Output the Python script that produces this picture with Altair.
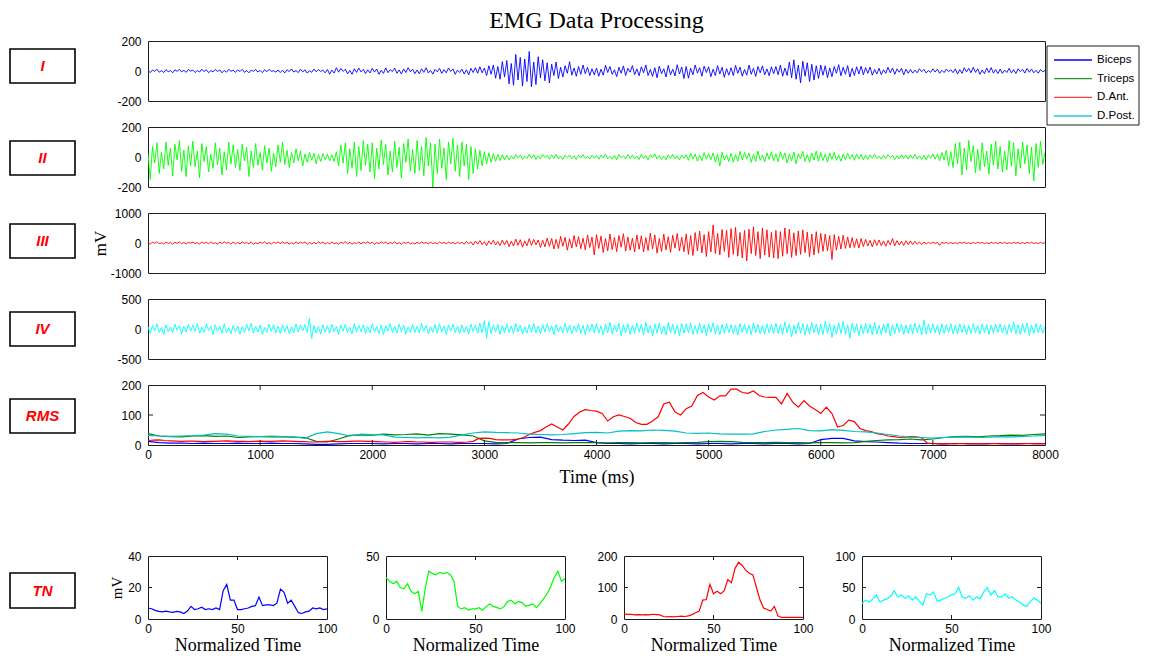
import altair as alt
import pandas as pd

# ---------------- data ----------------
SERIES = ["Biceps", "Triceps", "D.Ant.", "D.Post."]
RAW_COLORS = ["#0000ff", "#00ff00", "#ff0000", "#00ffff"]
RMS_COLORS = ["#0000ff", "#008000", "#ff0000", "#00bfbf"]
LEGEND_COLORS = ["#0000ff", "#2e9a2e", "#ff3b3b", "#22cccc"]
PANEL_LABELS = ["I", "II", "III", "IV", "RMS", "TN"]

T_RAW = list(range(0, 8001, 20))

BICEPS = [
    4, -11, 7, -3, 12, -8, 2, -10, 9, -5, 3, -12, 8, -2, 11, -6, 5, -9, 10, -1,
    6, -10, 3, -7, 12, -4, 9, -11, 2, -6, 10, -3, 7, -12, 4, -8, 11, -2, 5, -9,
    8, -4, 11, -9, 3, -12, 6, -2, 10, -7, 4, -11, 9, -5, 12, -3, 2, -8, 7, -10,
    5, -13, 9, -4, 14, -7, 3, -11, 12, -6, 8, -14, 2, -9, 13, -5, 10, -3, 6, -12,
    10, -21, 6, -14, 22, -8, 17, -3, 12, -19, 4, -22, 15, -9, 20, -6, 11, -17, 8, -13,
    18, -7, 13, -22, 5, -16, 21, -11, 9, -4, 19, -15, 7, -20, 14, -10, 22, -5, 12, -18,
    7, -19, 15, -9, 22, -13, 4, -21, 11, -6, 18, -16, 9, -12, 20, -3, 14, -22, 6, -10,
    12, -20, 8, -25, 18, -10, 22, -15, 28, -12, 20, -30, 35, -22, 40, -48, 30, -55, 62, -40,
    70, -85, 50, -95, 110, -60, 90, -100, 80, -70, 130, -105, 60, -90, 95, -45, 75, -65, 55, -80,
    45, -30, 60, -50, 25, -40, 35, -15, 62, -28, 20, -35, 30, -22, 40, -18, 25, -30, 15, -26,
    20, -35, 12, -28, 38, -10, 30, -22, 8, -38, 25, -15, 34, -30, 18, -8, 36, -25, 14, -32,
    28, -12, 40, -30, 10, -36, 22, -45, 32, -18, 15, -40, 38, -25, 12, -33, 42, -20, 26, -50,
    30, -48, 18, -25, 40, -14, 22, -35, 33, -10, 28, -38, 12, -30, 36, -20, 25, -42, 15, -28,
    22, -30, 38, -15, 26, -35, 10, -28, 40, -22, 18, -36, 30, -12, 34, -25, 14, -32, 28, -18,
    30, -25, 40, -35, 20, -30, 60, -45, 75, -55, 40, -80, 65, -35, 55, -70, 45, -60, 35, -50,
    40, -28, 35, -45, 20, -38, 30, -15, 42, -32, 25, -22, 36, -40, 18, -30, 28, -20, 32, -25,
    22, -15, 26, -28, 10, -20, 18, -24, 8, -16, 25, -12, 20, -22, 14, -8, 18, -26, 12, -15,
    10, -14, 6, -12, 15, -5, 11, -13, 3, -9, 14, -7, 12, -15, 5, -10, 13, -4, 8, -11,
    14, -20, 9, -16, 22, -6, 18, -12, 25, -9, 15, -22, 7, -18, 20, -11, 23, -14, 10, -17,
    12, -16, 6, -10, 18, -13, 9, -17, 15, -4, 11, -14, 17, -8, 13, -12, 5, -15, 10, -6,
    4,
]

TRICEPS = [
    25, -150, 70, -40, 95, -110, 30, -80, 100, -55, 60, -125, 85, -20, 110, -95, 45, -130, 75, -60,
    105, -65, 40, -140, 90, -30, 70, -100, 20, -75, 95, -50, 60, -120, 35, -85, 100, -45, 80, -70,
    50, -90, 85, -25, 65, -130, 40, -70, 90, -55, 30, -85, 75, -40, 60, -95, 25, -65, 80, -35,
    100, -50, 45, -70, 30, -40, 55, -25, 40, -60, 20, -35, 30, -22, 25, -45, 15, -30, 22, -18,
    20, -25, 15, -30, 35, -60, 80, -40, 95, -110, 55, -75, 100, -130, 70, -90, 110, -55, 85, -100,
    95, -145, 60, -80, 115, -50, 85, -120, 40, -100, 105, -70, 65, -140, 90, -35, 120, -95, 50, -110,
    110, -90, 70, -125, 130, -60, 95, -200, 85, -110, 120, -75, 60, -150, 100, -45, 125, -95, 80, -130,
    100, -60, 85, -150, 70, -110, 55, -80, 45, -60, 35, -45, 28, -35, 22, -28, 18, -24, 15, -20,
    12, -18, 8, -14, 17, -6, 13, -16, 5, -11, 18, -9, 14, -17, 7, -12, 16, -4, 10, -15,
    15, -9, 17, -13, 6, -16, 11, -5, 14, -12, 8, -17, 13, -7, 16, -10, 4, -14, 12, -8,
    9, -16, 13, -7, 18, -12, 5, -15, 11, -18, 16, -6, 8, -13, 17, -9, 14, -11, 6, -17,
    17, -11, 8, -19, 14, -5, 20, -13, 10, -16, 6, -18, 15, -9, 19, -12, 7, -20, 13, -8,
    16, -22, 25, -12, 20, -28, 10, -24, 30, -15, 22, -18, 28, -35, 18, -60, 32, -20, 14, -30,
    25, -35, 15, -28, 38, -20, 30, -12, 26, -36, 18, -30, 40, -22, 12, -32, 28, -16, 35, -25,
    20, -32, 36, -15, 28, -40, 18, -26, 34, -45, 22, -12, 38, -30, 15, -35, 27, -20, 40, -28,
    30, -24, 18, -34, 26, -15, 32, -22, 12, -28, 20, -18, 25, -14, 16, -22, 19, -12, 17, -20,
    10, -16, 14, -8, 17, -12, 6, -15, 13, -10, 16, -5, 11, -17, 8, -13, 15, -9, 12, -14,
    14, -10, 17, -13, 8, -16, 12, -18, 15, -9, 20, -14, 18, -25, 30, -20, 45, -60, 35, -70,
    90, -45, 100, -120, 60, -85, 110, -30, 75, -105, 50, -90, 95, -65, 40, -115, 85, -55, 105, -80,
    70, -100, 40, -85, 110, -60, 95, -125, 55, -75, 100, -45, 80, -110, 65, -160, 90, -70, 105, -50,
    30,
]

D_ANT = [
    15, -38, 28, -10, 42, -25, 8, -33, 36, -18, 22, -45, 30, -12, 40, -28, 18, -35, 25, -8,
    32, -20, 12, -40, 38, -15, 26, -30, 45, -22, 10, -36, 28, -18, 40, -8, 20, -42, 34, -25,
    22, -34, 40, -12, 18, -28, 35, -42, 10, -25, 30, -16, 44, -30, 14, -38, 26, -10, 36, -22,
    38, -18, 25, -40, 12, -30, 42, -22, 28, -8, 35, -45, 20, -32, 16, -26, 40, -14, 30, -36,
    18, -30, 36, -24, 8, -42, 30, -15, 44, -28, 22, -38, 12, -20, 34, -32, 26, -12, 40, -18,
    28, -45, 15, -26, 38, -10, 32, -36, 20, -22, 42, -30, 14, -40, 26, -16, 36, -28, 10, -34,
    24, -20, 34, -12, 18, -32, 28, -24, 10, -30, 36, -16, 22, -26, 30, -10, 16, -28, 26, -20,
    30, -45, 55, -25, 40, -70, 65, -35, 80, -55, 45, -90, 70, -40, 95, -65, 50, -85, 100, -60,
    85, -120, 60, -100, 130, -75, 110, -140, 70, -95, 145, -80, 120, -60, 100, -150, 90, -125, 160, -110,
    150, -200, 120, -180, 220, -110, 190, -240, 140, -170, 250, -130, 210, -190, 160, -230, 270, -150, 200, -400,
    280, -180, 230, -320, 150, -260, 300, -220, 180, -290, 250, -140, 310, -270, 200, -240, 160, -300, 270, -210,
    240, -300, 180, -250, 330, -200, 270, -340, 150, -280, 300, -230, 210, -310, 260, -170, 320, -260, 190, -290,
    300, -380, 250, -420, 350, -260, 400, -330, 280, -450, 380, -300, 600, -350, 320, -400, 450, -280, 420, -480,
    480, -380, 520, -440, 350, -500, 420, -600, 460, -350, 540, -420, 380, -520, 500, -400, 440, -470, 360, -500,
    420, -520, 380, -440, 500, -360, 460, -480, 340, -420, 400, -380, 440, -320, 360, -460, 300, -400, 380, -340,
    320, -280, 300, -260, 250, -550, 280, -240, 220, -200, 260, -180, 200, -160, 180, -150, 140, -170, 150, -120,
    120, -100, 90, -130, 110, -80, 100, -90, 70, -110, 85, -60, 150, -95, 80, -70, 60, -85, 75, -55,
    70, -50, 60, -45, 40, -55, 35, -30, 25, -20, 30, -18, 22, -80, 26, -15, 20, -24, 18, -22,
    15, -25, 22, -12, 28, -18, 10, -24, 20, -15, 26, -8, 18, -22, 12, -26, 24, -14, 16, -20,
    20, -16, 25, -22, 12, -18, 24, -10, 18, -26, 14, -20, 22, -12, 28, -18, 10, -24, 20, -15,
    10,
]

D_POST = [
    40, -75, 60, -30, 85, -55, 25, -90, 70, -45, 35, -65, 80, -20, 55, -85, 45, -50, 75, -35,
    65, -40, 90, -70, 30, -55, 80, -25, 50, -95, 70, -35, 45, -75, 85, -60, 20, -80, 60, -45,
    50, -85, 35, -60, 75, -30, 95, -70, 40, -50, 65, -90, 25, -55, 80, -40, 70, -65, 45, -75,
    70, -45, 55, -80, 35, -60, 85, -50, 65, -30, 75, -55, 180, -160, 60, -70, 40, -85, 70, -50,
    55, -70, 80, -40, 45, -90, 65, -35, 75, -60, 30, -80, 90, -50, 60, -45, 70, -75, 40, -65,
    85, -50, 40, -75, 70, -95, 55, -30, 90, -60, 45, -70, 80, -40, 65, -85, 35, -55, 75, -60,
    45, -65, 90, -40, 60, -80, 35, -55, 75, -70, 85, -45, 50, -90, 65, -35, 80, -60, 40, -75,
    70, -55, 45, -85, 80, -40, 60, -70, 95, -60, 140, -150, 120, -80, 65, -45, 75, -90, 55, -65,
    80, -60, 50, -75, 90, -45, 65, -85, 40, -70, 75, -55, 95, -65, 45, -80, 70, -50, 85, -40,
    55, -90, 75, -50, 40, -70, 95, -60, 65, -80, 50, -45, 85, -75, 60, -95, 70, -40, 80, -65,
    90, -70, 55, -100, 80, -60, 110, -85, 65, -50, 95, -110, 70, -60, 85, -90, 60, -75, 100, -55,
    75, -95, 110, -65, 60, -120, 85, -70, 95, -80, 50, -100, 105, -60, 80, -85, 65, -110, 90, -70,
    85, -60, 100, -90, 55, -75, 95, -65, 70, -110, 80, -55, 105, -85, 60, -95, 75, -70, 90, -60,
    70, -85, 60, -100, 90, -55, 80, -75, 65, -95, 100, -60, 75, -80, 55, -90, 85, -65, 70, -75,
    95, -75, 70, -90, 120, -65, 85, -130, 60, -80, 105, -70, 90, -100, 75, -85, 110, -60, 80, -95,
    80, -95, 130, -70, 90, -140, 65, -85, 100, -75, 125, -90, 70, -150, 95, -65, 85, -110, 75, -80,
    90, -70, 75, -100, 110, -85, 60, -95, 85, -65, 100, -120, 70, -80, 95, -60, 80, -90, 65, -75,
    75, -85, 95, -60, 70, -100, 150, -85, 80, -70, 90, -65, 60, -95, 85, -75, 70, -55, 90, -80,
    65, -80, 85, -55, 70, -95, 60, -75, 90, -65, 55, -85, 80, -60, 75, -90, 65, -70, 85, -55,
    80, -65, 60, -90, 75, -55, 120, -80, 70, -95, 85, -60, 100, -110, 65, -75, 90, -60, 75, -70,
    40,
]

T_RMS = list(range(0, 8001, 100))
T_RMS_FINE = list(range(0, 8001, 50))
RMS_BICEPS = [
    12, 8, 6, 6, 5, 6, 5, 5, 6, 5,
    5, 6, 5, 5, 4, 2, 2, 4, 5, 5,
    5, 4, 5, 5, 4, 5, 5, 4, 5, 5,
    5, 4, 5, 20, 25, 26, 18, 16, 15, 16,
    8, 5, 5, 4, 5, 5, 4, 5, 5, 4,
    5, 5, 4, 5, 5, 4, 5, 5, 4, 5,
    18, 22, 22, 14, 11, 10, 8, 6, 5, 5,
    5, 4, 5, 5, 4, 5, 5, 4, 5, 5,
    5,
]
RMS_TRICEPS = [
    38, 30, 28, 27, 30, 31, 29, 30, 25, 27,
    28, 27, 28, 26, 25, 12, 10, 20, 32, 34,
    33, 36, 34, 35, 37, 33, 38, 36, 34, 30,
    14, 9, 8, 8, 7, 8, 8, 7, 8, 8,
    8, 7, 8, 8, 7, 8, 8, 7, 8, 9,
    11, 12, 11, 9, 8, 8, 9, 8, 8, 7,
    8, 8, 7, 8, 12, 15, 17, 18, 20, 17,
    20, 25, 28, 29, 27, 30, 31, 33, 32, 35,
    37,
]
RMS_DANT = [  # 50 ms steps
    15, 16, 17, 15, 14, 13, 12, 13, 13, 12,
    11, 12, 12, 13, 14, 13, 12, 12, 11, 12,
    13, 12, 12, 13, 14, 13, 12, 11, 11, 10,
    10, 11, 12, 12, 11, 11, 12, 13, 13, 12,
    12, 11, 10, 10, 9, 10, 11, 11, 10, 10,
    9, 9, 10, 10, 10, 9, 9, 10, 12, 22,
    23, 22, 18, 17, 17, 18, 20, 25, 35, 42,
    48, 60, 70, 60, 50, 70, 95, 110, 118, 115,
    113, 105, 80, 94, 100, 95, 89, 75, 69, 69,
    80, 94, 137, 143, 110, 100, 121, 130, 165, 175,
    160, 150, 164, 164, 186, 186, 175, 172, 180, 165,
    160, 159, 159, 137, 172, 143, 126, 148, 130, 118,
    105, 126, 105, 60, 65, 83, 78, 55, 48, 45,
    38, 35, 30, 28, 25, 26, 28, 27, 24, 6,
    5, 4, 4, 5, 4, 5, 4, 4, 5, 4,
    4, 5, 4, 4, 5, 4, 4, 5, 4, 4,
    4,
]
RMS_DPOST = [
    32, 30, 29, 30, 31, 33, 38, 36, 30, 29,
    28, 30, 28, 27, 22, 38, 44, 38, 30, 36,
    35, 34, 26, 25, 24, 25, 24, 26, 34, 40,
    44, 42, 41, 40, 36, 35, 34, 35, 38, 41,
    42, 40, 46, 48, 47, 50, 49, 46, 40, 39,
    40, 37, 36, 36, 37, 45, 50, 52, 55, 48,
    47, 51, 49, 45, 44, 40, 35, 30, 26, 25,
    23, 25, 26, 27, 25, 26, 28, 27, 29, 30,
    32,
]

T_NORM = list(range(0, 101, 2))
TN_BICEPS = [
    7, 6.5, 5.5, 4.8, 4.5, 5, 4.5, 4.2, 4.8, 4.5,
    3.5, 5, 8, 6, 6.5, 7.5, 6, 6.5, 6, 7,
    6, 18, 22, 12, 12, 6, 6, 6.5, 7, 8,
    8.5, 14, 8.5, 9, 9, 8.5, 10, 19, 17, 10,
    12, 8, 4, 3.5, 4.5, 5, 7, 6.5, 7, 6,
    6.5,
]
TN_TRICEPS = [
    33, 30, 28, 30, 25, 24, 28, 22, 20, 22,
    6, 25, 38, 36, 35, 37, 36, 37, 35, 30,
    10, 8, 9, 7, 8, 8, 9, 7, 10, 12,
    10, 9, 8, 10, 14, 15, 12, 14, 13, 10,
    11, 12, 9, 12, 16, 20, 26, 33, 38, 30,
    32,
]
TN_DANT = [
    16, 15, 15, 13, 14, 13, 14, 13, 15, 14,
    13, 8, 7, 8, 7, 8, 9, 8, 10, 14,
    20, 25, 60, 62, 110, 80, 88, 80, 90, 125,
    115, 160, 180, 170, 155, 145, 140, 100, 60, 35,
    30, 25, 40, 10, 5, 5, 5, 5, 5, 5,
    5,
]
TN_DPOST = [
    25, 30, 27, 32, 38, 27, 30, 32, 36, 45,
    35, 38, 33, 37, 30, 35, 28, 22, 40, 38,
    43, 28, 30, 33, 35, 38, 40, 50, 35, 33,
    37, 30, 35, 32, 43, 50, 38, 45, 35, 35,
    40, 33, 35, 30, 27, 22, 20, 28, 33, 30,
    25,
]

RAW_LIMITS = [200, 200, 1000, 500]
RMS_YTICKS = [0, 100, 200]
TIME_TICKS = list(range(0, 8001, 1000))
NORM_TICKS = [0, 50, 100]
TN_YMAX = [40, 50, 200, 100]
TN_YTICKS = [[0, 20, 40], [0, 50], [0, 100, 200], [0, 50, 100]]

# ---------------- styling / layout ----------------
SANS = "Liberation Sans"
SERIF = "Liberation Serif"
FRAME = "#1e1e1e"
W, H = 897, 60
LABEL_EXPR = "toString(datum.value)"

BOX_Y = {"I": (8, 42), "II": (14, 48), "III": (11, 45), "IV": (13, 47),
         "RMS": (14, 48), "TN": (17, 52)}


def label_box(text):
    y0, y1 = BOX_Y[text]
    d = pd.DataFrame({"lab": [text]})
    rect = alt.Chart(d).mark_rect(fill="white", stroke="black", strokeWidth=1.6).encode(
        x=alt.value(-138), x2=alt.value(-73), y=alt.value(y0), y2=alt.value(y1))
    txt = alt.Chart(d).mark_text(color="red", font=SANS, fontSize=15, fontWeight="bold",
                                 fontStyle="italic", align="center", baseline="middle").encode(
        x=alt.value(-105.5), y=alt.value((y0 + y1) / 2), text="lab:N")
    return [rect, txt]


def raw_panel(i, values, ytitle=None):
    lim = RAW_LIMITS[i]
    df = pd.DataFrame({"t": T_RAW, "v": values})
    yax = alt.Axis(values=[-lim, 0, lim], labelExpr=LABEL_EXPR,
                   title=ytitle if ytitle else None, titleFontSize=17, titlePadding=1)
    line = alt.Chart(df).mark_line(color=RAW_COLORS[i], strokeWidth=0.9, clip=True).encode(
        x=alt.X("t:Q", scale=alt.Scale(domain=[0, 8000], nice=False, zero=False), axis=None),
        y=alt.Y("v:Q", scale=alt.Scale(domain=[-lim, lim], nice=False), axis=yax),
    )
    return [line] + label_box(PANEL_LABELS[i])


def legend_layers():
    leg = pd.DataFrame({"name": SERIES, "col": LEGEND_COLORS})
    ly = alt.Y("name:N", sort=SERIES, axis=None,
               scale=alt.Scale(type="point", domain=SERIES, range=[19, 75], padding=0))
    box = alt.Chart(leg.head(1)).mark_rect(fill="white", stroke=FRAME, strokeWidth=1).encode(
        x=alt.value(899), x2=alt.value(991), y=alt.value(5), y2=alt.value(84))
    lines = alt.Chart(leg).mark_rule(strokeWidth=1.3).encode(
        x=alt.value(906), x2=alt.value(944), y=ly, color=alt.Color("col:N", scale=None))
    texts = alt.Chart(leg).mark_text(align="left", baseline="middle", font=SANS,
                                     fontSize=11.5, color="black").encode(
        x=alt.value(949), y=ly, text="name:N")
    return [box, lines, texts]


# panels I-IV
p1 = alt.layer(*(raw_panel(0, BICEPS) + legend_layers())).resolve_scale(
    y="independent", color="independent").properties(
    width=W, height=H,
    title=alt.Title("EMG Data Processing", font=SERIF, fontSize=24, fontWeight="normal",
                    color="black", anchor="middle", frame="group", offset=2))
p2 = alt.layer(*raw_panel(1, TRICEPS)).properties(width=W, height=H)
p3 = alt.layer(*raw_panel(2, D_ANT, ytitle="mV")).properties(width=W, height=H)
p4 = alt.layer(*raw_panel(3, D_POST)).properties(width=W, height=H)

# RMS panel
rms_rows = []
for name, times, vals in zip(SERIES, [T_RMS, T_RMS, T_RMS_FINE, T_RMS],
                             [RMS_BICEPS, RMS_TRICEPS, RMS_DANT, RMS_DPOST]):
    for t, v in zip(times, vals):
        rms_rows.append({"t": t, "v": v, "s": name})
rms_df = pd.DataFrame(rms_rows)

x_rms = alt.X("t:Q", scale=alt.Scale(domain=[0, 8000], nice=False, zero=False),
              axis=alt.Axis(values=TIME_TICKS, labelExpr=LABEL_EXPR, title="Time (ms)",
                            titleFontSize=18, titlePadding=8, labelPadding=4))
y_rms = alt.Y("v:Q", scale=alt.Scale(domain=[0, 200], nice=False),
              axis=alt.Axis(values=RMS_YTICKS, labelExpr=LABEL_EXPR, title=None))
rms_layers = []
for name, col in zip(SERIES, RMS_COLORS):
    rms_layers.append(
        alt.Chart(rms_df).transform_filter(alt.datum.s == name)
        .mark_line(color=col, strokeWidth=1.2, clip=True).encode(x=x_rms, y=y_rms))
xt = pd.DataFrame({"t": TIME_TICKS[1:-1]})
yt = pd.DataFrame({"v": RMS_YTICKS[1:-1]})
rms_layers += [
    alt.Chart(xt).mark_rule(color=FRAME).encode(x=x_rms, y=alt.value(0), y2=alt.value(5)),
    alt.Chart(xt).mark_rule(color=FRAME).encode(x=x_rms, y=alt.value(H - 5), y2=alt.value(H)),
    alt.Chart(yt).mark_rule(color=FRAME).encode(y=y_rms, x=alt.value(0), x2=alt.value(5)),
    alt.Chart(yt).mark_rule(color=FRAME).encode(y=y_rms, x=alt.value(W - 5), x2=alt.value(W)),
]
rms = alt.layer(*(rms_layers + label_box("RMS"))).properties(width=W, height=H)

# bottom (time-normalised) panels
BW, BH = 179, 63


def tn_panel(i, values):
    ymax = TN_YMAX[i]
    df = pd.DataFrame({"n": T_NORM, "v": values})
    xe = alt.X("n:Q", scale=alt.Scale(domain=[0, 100], nice=False),
               axis=alt.Axis(values=NORM_TICKS, labelExpr=LABEL_EXPR, title="Normalized Time",
                             titleFontSize=18, titlePadding=2, labelPadding=4))
    ye = alt.Y("v:Q", scale=alt.Scale(domain=[0, ymax], nice=False),
               axis=alt.Axis(values=TN_YTICKS[i], labelExpr=LABEL_EXPR,
                             title="mV" if i == 0 else None, titleFontSize=15, titlePadding=3))
    layers = [alt.Chart(df).mark_line(color=RAW_COLORS[i], strokeWidth=1.2, clip=True).encode(x=xe, y=ye)]
    xt2 = pd.DataFrame({"n": NORM_TICKS[1:-1]})
    yt2 = pd.DataFrame({"v": TN_YTICKS[i][1:-1]})
    layers += [
        alt.Chart(xt2).mark_rule(color=FRAME).encode(x=xe, y=alt.value(0), y2=alt.value(4)),
        alt.Chart(xt2).mark_rule(color=FRAME).encode(x=xe, y=alt.value(BH - 4), y2=alt.value(BH)),
    ]
    if len(TN_YTICKS[i]) > 2:
        layers += [
            alt.Chart(yt2).mark_rule(color=FRAME).encode(y=ye, x=alt.value(0), x2=alt.value(4)),
            alt.Chart(yt2).mark_rule(color=FRAME).encode(y=ye, x=alt.value(BW - 4), x2=alt.value(BW)),
        ]
    if i == 0:
        layers += label_box("TN")
    return alt.layer(*layers).properties(width=BW, height=BH)


bottom = alt.hconcat(*[tn_panel(i, v) for i, v in enumerate([TN_BICEPS, TN_TRICEPS, TN_DANT, TN_DPOST])],
                     spacing=59, bounds="flush")

top = alt.vconcat(p1, p2, p3, p4, rms, spacing=26, bounds="flush")

chart = alt.vconcat(top, bottom, spacing=62).properties(
    padding={"left": 0, "top": 0, "right": 0, "bottom": 0}
).configure_view(stroke=FRAME, strokeWidth=1).configure_axis(
    labelFont=SANS, labelFontSize=12, labelColor="black",
    titleFont=SERIF, titleFontWeight="normal", titleColor="black",
    domain=False, ticks=False, tickSize=0, grid=False, labelPadding=7,
    labelFlush=False, labelOverlap=False,
)

chart.save("out.html", embed_options={"renderer": "svg", "actions": False})
